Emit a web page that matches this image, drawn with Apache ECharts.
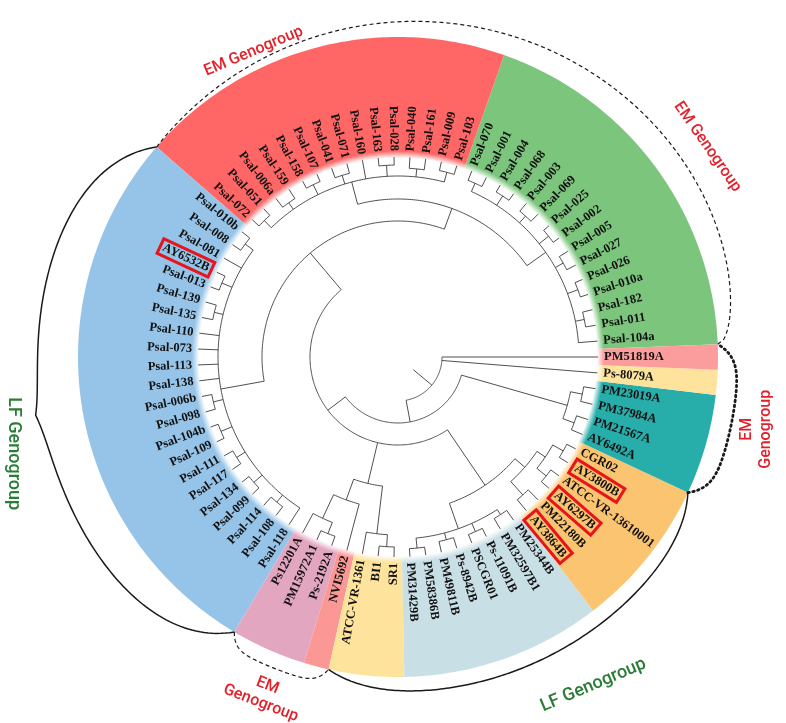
<!DOCTYPE html>
<html>
<head>
<meta charset="utf-8">
<script src="https://cdn.jsdelivr.net/npm/echarts@6.0.0/dist/echarts.min.js"></script>
</head>
<body style="margin:0;background:#fff">
<div id="chart" style="width:786px;height:723px"></div>
<script>
// leaves, counter-clockwise starting just above 3 o'clock
var leaves = [
    'Psal-104a', 'Psal-011', 'Psal-182', 'Psal-010a', 'Psal-026', 'Psal-027', 'Psal-005', 'Psal-002',
    'Psal-025', 'Psal-069', 'Psal-003', 'Psal-068', 'Psal-004', 'Psal-001', 'Psal-070',
    'Psal-103', 'Psal-009', 'Psal-161', 'Psal-040', 'Psal-028', 'Psal-163', 'Psal-160', 'Psal-071',
    'Psal-041', 'Psal-107', 'Psal-158', 'Psal-159', 'Psal-006a', 'Psal-051', 'Psal-072',
    'Psal-010b', 'Psal-008', 'Psal-081', 'AY6532B', 'Psal-013', 'Psal-139', 'Psal-135', 'Psal-110',
    'Psal-073', 'Psal-113', 'Psal-138', 'Psal-006b', 'Psal-098', 'Psal-104b', 'Psal-109', 'Psal-111',
    'Psal-117', 'Psal-134', 'Psal-099', 'Psal-114', 'Psal-108', 'Psal-118',
    'Ps12201A', 'PM15972A1', 'Ps-2192A', 'NVI5692', 'ATCC-VR-1361', 'BI1', 'SR1',
    'PM31429B', 'PM58386B', 'PM49811B', 'Ps-8942B', 'PSCGR01', 'Ps-11091B', 'PM32597B1', 'PM25344B',
    'AY3864B', 'PM22180B', 'AY6297B', 'ATCC-VR-13610001', 'AY3800B', 'CGR02',
    'AY6492A', 'PM21567A', 'PM37984A', 'PM23019A', 'Ps-8079A', 'PM51819A'
];

// clades: [first leaf, last leaf, node depth from centre]
var clades = [
    [0, 78, 44], [0, 76, 66], [0, 72, 88], [0, 55, 113], [0, 51, 136], [0, 29, 158],
    [0, 14, 181], [1, 2, 190], [3, 4, 192], [5, 6, 190], [7, 8, 193], [9, 10, 190], [11, 12, 192], [13, 14, 190],
    [15, 29, 181], [15, 16, 191], [17, 18, 189], [19, 20, 192], [22, 23, 190], [24, 25, 192], [26, 27, 189], [28, 29, 191],
    [30, 51, 180], [30, 31, 190], [33, 34, 191], [35, 36, 189], [41, 42, 190], [43, 44, 192], [45, 46, 190],
    [47, 48, 191], [49, 50, 189],
    [52, 58, 130], [52, 55, 152], [52, 54, 178], [53, 54, 190], [56, 58, 178], [57, 58, 190],
    [59, 72, 155], [59, 66, 182], [59, 60, 192], [61, 62, 189], [63, 64, 191], [65, 66, 188],
    [67, 72, 168], [67, 68, 186], [69, 72, 178], [69, 70, 190], [71, 72, 190],
    [73, 76, 176], [73, 74, 188], [75, 76, 188]
];

// strains marked with a red frame
var boxed = ['AY6532B', 'AY3800B', 'AY6297B', 'AY3864B'];

// coloured sectors: [first leaf, last leaf]
var bands = [[0, 14], [15, 29], [30, 51], [52, 54], [55, 55], [56, 58], [59, 66], [67, 72], [73, 76], [77, 77], [78, 78]];
var bandColors = ['#7cc57d', '#ff6767', '#96c4e8', '#e3a6c0', '#fb9896', '#fde39c', '#c9dfe6', '#fbc470', '#27adaa', '#fde39c', '#fb9d9d'];

// genogroup brackets
var groups = [
    {from: -0.5, to: 29.5, type: 'dashed', rise: 26, skew: 0.5},
    {from: 72.5, to: 78.5, type: 'dotted', rise: 20, cusp: 0},
    {from: 55.5, to: 72.5, type: 'solid', rise: 15, cusp: 0},
    {from: 51.5, to: 55.5, type: 'dashed', rise: 15, cusp: 0},
    {from: 29.5, to: 51.5, type: 'solid', rise: 40, cusp: 7}
];
var groupLabels = [
    {text: 'EM Genogroup', at: 24.3, r: 338, rot: 23, size: 16, color: '#e4202a'},
    {text: 'EM Genogroup', at: 6.5, r: 374, rot: -55, size: 16, color: '#e4202a'},
    {text: 'EM\nGenogroup', at: 75.5, r: 366, rot: 90, size: 16, color: '#e4202a'},
    {text: 'LF Genogroup', at: 65, r: 382, rot: 23, size: 18, color: '#2a7d36'},
    {text: 'EM\nGenogroup', at: 53.5, r: 363, rot: -21, size: 16, color: '#e4202a'},
    {text: 'LF Genogroup', at: 41.6, r: 396, rot: -90, size: 18, color: '#2a7d36'}
];

var TIP = 200, BAND_IN = 199, BAND_OUT = 320, LABEL_R = 206;

// build the tree from the clade ranges
var nodes = clades.map(function (c) { return {lo: c[0], hi: c[1], r: c[2], kids: []}; });
nodes.sort(function (a, b) { return (a.hi - a.lo) - (b.hi - b.lo); });
nodes.forEach(function (n, i) {
    for (var j = i + 1; j < nodes.length; j++) {
        var p = nodes[j];
        if (p.lo <= n.lo && p.hi >= n.hi) { p.kids.push(n); n.parent = p; break; }
    }
});
leaves.forEach(function (name, i) {
    for (var j = 0; j < nodes.length; j++) {
        if (nodes[j].lo <= i && nodes[j].hi >= i) {
            nodes[j].kids.push({lo: i, hi: i, r: TIP, a: i});
            break;
        }
    }
});
nodes.forEach(function (n) {
    n.kids.sort(function (a, b) { return a.lo - b.lo; });
    n.from = n.kids[0].a;
    n.to = n.kids[n.kids.length - 1].a;
    n.a = (n.from + n.to) / 2;
});
var root = nodes[nodes.length - 1];

var arcData = [], stemData = [];
nodes.forEach(function (n) {
    arcData.push([n.r, n.from, n.to]);
    n.kids.forEach(function (k) { stemData.push([n.r, k.a, k.r]); });
});
stemData.push([20, root.a, root.r]);

function arcPoints(api, r, a1, a2) {
    var pts = [], n = Math.max(2, Math.ceil(Math.abs(a2 - a1) * 6));
    for (var k = 0; k <= n; k++) pts.push(api.coord([r, a1 + (a2 - a1) * k / n]));
    return pts;
}

var chart = echarts.init(document.getElementById('chart'));
var option = {
    animation: false,
    polar: {center: [398, 357], radius: BAND_OUT},
    angleAxis: {type: 'value', min: -1, max: 78, startAngle: 0, clockwise: false, show: false},
    radiusAxis: {type: 'value', min: 0, max: BAND_OUT, show: false},
    series: [
        {
            type: 'custom', coordinateSystem: 'polar', z: 1, silent: true,
            encode: {radius: 0, angle: 1},
            data: bands.map(function (b) { return [BAND_OUT, b[0] - 0.5, b[1] + 0.5]; }),
            renderItem: function (params, api) {
                var a1 = api.value(1), a2 = api.value(2);
                var outer = arcPoints(api, BAND_OUT, a1, a2);
                var inner = arcPoints(api, BAND_IN, a2, a1);
                var c = api.coord([0, a1]);
                var col = bandColors[params.dataIndex];
                var fill = new echarts.graphic.RadialGradient(c[0], c[1], BAND_OUT, [
                    {offset: 0, color: '#fff'},
                    {offset: BAND_IN / BAND_OUT, color: '#fff'},
                    {offset: 206 / BAND_OUT, color: col},
                    {offset: 1, color: col}
                ], true);
                return {type: 'polygon', shape: {points: outer.concat(inner)}, style: {fill: fill, stroke: null}};
            }
        },
        {
            type: 'custom', coordinateSystem: 'polar', z: 2, silent: true,
            encode: {radius: 0, angle: 1},
            data: arcData,
            renderItem: function (params, api) {
                return {
                    type: 'polyline',
                    shape: {points: arcPoints(api, api.value(0), api.value(1), api.value(2))},
                    style: {stroke: '#3c3c3c', lineWidth: 0.9, fill: null}
                };
            }
        },
        {
            type: 'custom', coordinateSystem: 'polar', z: 2, silent: true,
            encode: {radius: 0, angle: 1},
            data: stemData,
            renderItem: function (params, api) {
                var p1 = api.coord([api.value(0), api.value(1)]);
                var p2 = api.coord([api.value(2), api.value(1)]);
                return {
                    type: 'line',
                    shape: {x1: p1[0], y1: p1[1], x2: p2[0], y2: p2[1]},
                    style: {stroke: '#3c3c3c', lineWidth: 0.9}
                };
            }
        },
        {
            type: 'custom', coordinateSystem: 'polar', z: 3, silent: true,
            encode: {radius: 0, angle: 1},
            data: leaves.map(function (name, i) { return [LABEL_R, i]; }),
            renderItem: function (params, api) {
                var i = api.value(1);
                var p = api.coord([api.value(0), i]);
                var c = api.coord([0, i]);
                var ang = Math.atan2(c[1] - p[1], p[0] - c[0]);
                var left = Math.cos(ang) < 0;
                var name = leaves[params.dataIndex];
                var box = boxed.indexOf(name) >= 0;
                return {
                    type: 'text', x: p[0], y: p[1], rotation: left ? ang - Math.PI : ang,
                    style: {
                        text: name, x: 0, y: 0,
                        font: 'bold 12.5px "Liberation Serif"', fill: '#111',
                        align: left ? 'right' : 'left', verticalAlign: 'middle',
                        borderColor: box ? '#e8141b' : null, borderWidth: box ? 3 : 0,
                        padding: box ? [2, 3, 1, 3] : 0
                    }
                };
            }
        },
        {
            type: 'custom', coordinateSystem: 'polar', z: 4, silent: true,
            encode: {radius: 0, angle: 1},
            data: groups.map(function (g) { return [BAND_OUT, g.from, g.to]; }),
            renderItem: function (params, api) {
                var g = groups[params.dataIndex];
                var a1 = api.value(1), a2 = api.value(2), pts = [];
                for (var k = 0; k <= 160; k++) {
                    var t = k / 160, m = Math.min(t, 1 - t), r;
                    if (g.skew) {
                        r = BAND_OUT + g.rise * Math.sin(Math.PI * Math.pow(t, g.skew));
                    } else {
                        r = BAND_OUT + g.rise * (1 - Math.pow(1 - 2 * m, 6)) + g.cusp * Math.pow(2 * m, 14);
                    }
                    pts.push(api.coord([r, a1 + (a2 - a1) * t]));
                }
                var style = {stroke: '#1a1a1a', fill: null, lineWidth: 1.5};
                if (g.type === 'dashed') { style.lineDash = [4, 3]; style.lineWidth = 1.2; }
                if (g.type === 'dotted') { style.lineDash = [1.5, 3.5]; style.lineWidth = 2.8; style.lineCap = 'round'; }
                return {type: 'polyline', shape: {points: pts}, style: style};
            }
        },
        {
            type: 'custom', coordinateSystem: 'polar', z: 4, silent: true,
            encode: {radius: 0, angle: 1},
            data: groupLabels.map(function (l) { return [l.r, l.at]; }),
            renderItem: function (params, api) {
                var l = groupLabels[params.dataIndex];
                var p = api.coord([api.value(0), api.value(1)]);
                return {
                    type: 'text', x: p[0], y: p[1], rotation: l.rot * Math.PI / 180,
                    style: {
                        text: l.text, x: 0, y: 0, fill: l.color,
                        font: '500 ' + l.size + 'px Roboto', lineHeight: l.size + 3,
                        align: 'center', verticalAlign: 'middle'
                    }
                };
            }
        }
    ]
};
chart.setOption(option);
</script>
</body>
</html>
